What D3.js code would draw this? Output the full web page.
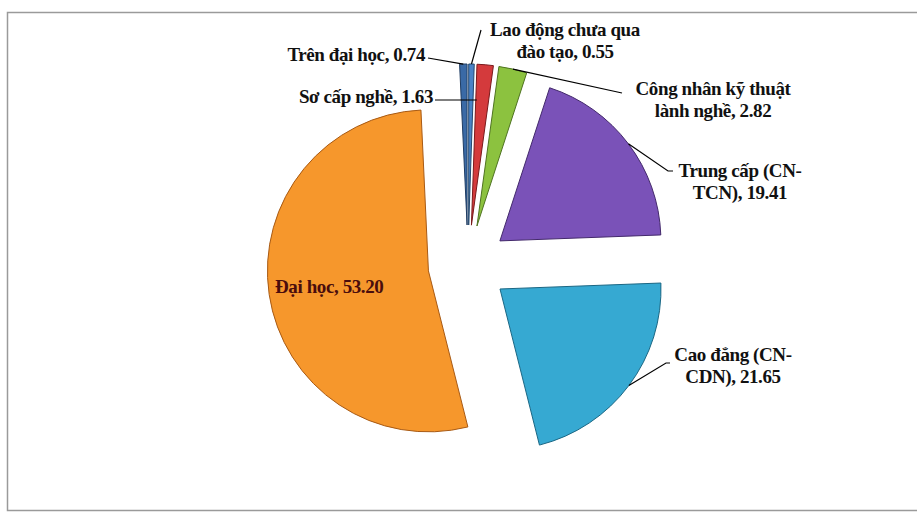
<!DOCTYPE html>
<html>
<head>
<meta charset="utf-8">
<script src="https://cdn.jsdelivr.net/npm/d3@7"></script>
<style>
  html, body { margin: 0; padding: 0; background: #fff; }
  svg { display: block; }
</style>
</head>
<body>
<svg id="chart" width="917" height="513"></svg>
<script>
// ---- data ----
const categories = [
  "Lao động chưa qua đào tạo",
  "Sơ cấp nghề",
  "Công nhân kỹ thuật lành nghề",
  "Trung cấp (CN-TCN)",
  "Cao đẳng (CN-CDN)",
  "Đại học",
  "Trên đại học"
];
const values = [0.55, 1.63, 2.82, 19.41, 21.65, 53.20, 0.74];
const colors = ["#4a82c6", "#d43a3c", "#8cc23f", "#7a52b8", "#36a9d2", "#f6972c", "#3a6aa6"];
const strokes = ["#24496f", "#7a1a1c", "#4f7321", "#43296b", "#1b6784", "#a85a14", "#1f3c62"];
// character index where a label wraps to a second line (null = single line)
const wrapAt = [17, null, 18, 14, 13, null, null];

// ---- layout ----
const W = 917, H = 513;
const cx = 468, cy = 265, R = 161, explode = 40;
const fontSize = 19;
// label anchor placement (layout only)
const labelLayout = [
  { x: 565, y: 30, anchor: "middle" },
  { x: 433, y: 97, anchor: "end" },
  { x: 713, y: 89, anchor: "middle" },
  { x: 740, y: 171, anchor: "middle" },
  { x: 733, y: 355, anchor: "middle" },
  { x: 275, y: 287, anchor: "start" },
  { x: 425, y: 55, anchor: "end" }
];

const svg = d3.select("#chart");

// frame
svg.append("rect")
  .attr("x", 7.5).attr("y", 12.5)
  .attr("width", W + 10).attr("height", 498)
  .attr("fill", "none").attr("stroke", "#9a9a9a").attr("stroke-width", 1.5);

const pie = d3.pie().sort(null).value(d => d)(values);
const arc = d3.arc().innerRadius(0).outerRadius(R);

const g = svg.append("g").attr("transform", `translate(${cx},${cy})`);

function offset(d) {
  const m = (d.startAngle + d.endAngle) / 2;
  return [explode * Math.sin(m), -explode * Math.cos(m)];
}
function polar(d, a, r) {
  const [ox, oy] = offset(d);
  return [cx + ox + r * Math.sin(a), cy + oy - r * Math.cos(a)];
}

g.selectAll("path.slice")
  .data(pie)
  .join("path")
  .attr("class", "slice")
  .attr("transform", d => `translate(${offset(d)[0]},${offset(d)[1]})`)
  .attr("d", arc)
  .attr("fill", (d, i) => colors[i])
  .attr("stroke", (d, i) => strokes[i])
  .attr("stroke-width", 1)
  .attr("stroke-linejoin", "round");

// leader lines (computed from slice geometry to label anchors)
const leaders = [];
pie.forEach((d, i) => {
  const mid = (d.startAngle + d.endAngle) / 2;
  const L = labelLayout[i];
  if (i === 0) { // Lao động: from text down to slice top
    leaders.push([[481, L.y], polar(d, mid, R)]);
  } else if (i === 6) { // Trên đại học
    leaders.push([[L.x + 3, L.y + 3], polar(d, mid, R)]);
  } else if (i === 1) { // Sơ cấp nghề: horizontal to slice edge
    const [ox, oy] = offset(d);
    const y = L.y + 3;
    const t = (cy + oy - y) / Math.cos(d.startAngle);
    const x = cx + ox + t * Math.sin(d.startAngle) + 1;
    leaders.push([[L.x + 2, y], [x, y]]);
  } else if (i === 2) {
    leaders.push([polar(d, mid, R), [L.x - 91, L.y + 4]]);
  } else if (i === 3) {
    leaders.push([polar(d, mid, R), [L.x - 72, L.y], [L.x - 67, L.y]]);
  } else if (i === 4) {
    leaders.push([polar(d, mid, R), [L.x - 67, L.y + 8], [L.x - 63, L.y + 8]]);
  }
});

svg.selectAll("path.leader")
  .data(leaders)
  .join("path")
  .attr("class", "leader")
  .attr("d", d3.line())
  .attr("fill", "none")
  .attr("stroke", "#000")
  .attr("stroke-width", 1.2);

// labels
const lineH = 22;
values.forEach((v, i) => {
  const full = `${categories[i]}, ${v.toFixed(2)}`;
  const lines = wrapAt[i] == null ? [full] : [full.slice(0, wrapAt[i]).trim(), full.slice(wrapAt[i]).trim()];
  const L = labelLayout[i];
  const t = svg.append("text")
    .attr("text-anchor", L.anchor)
    .attr("font-family", "'Liberation Serif', 'Times New Roman', serif")
    .attr("font-weight", "bold")
    .attr("font-size", fontSize)
    .attr("letter-spacing", -0.4)
    .attr("fill", i === 5 ? "#4a0d0d" : "#111");
  lines.forEach((s, k) => {
    t.append("tspan")
      .attr("x", L.x)
      .attr("y", L.y + k * lineH + fontSize * 0.34)
      .text(s);
  });
});
</script>
</body>
</html>
